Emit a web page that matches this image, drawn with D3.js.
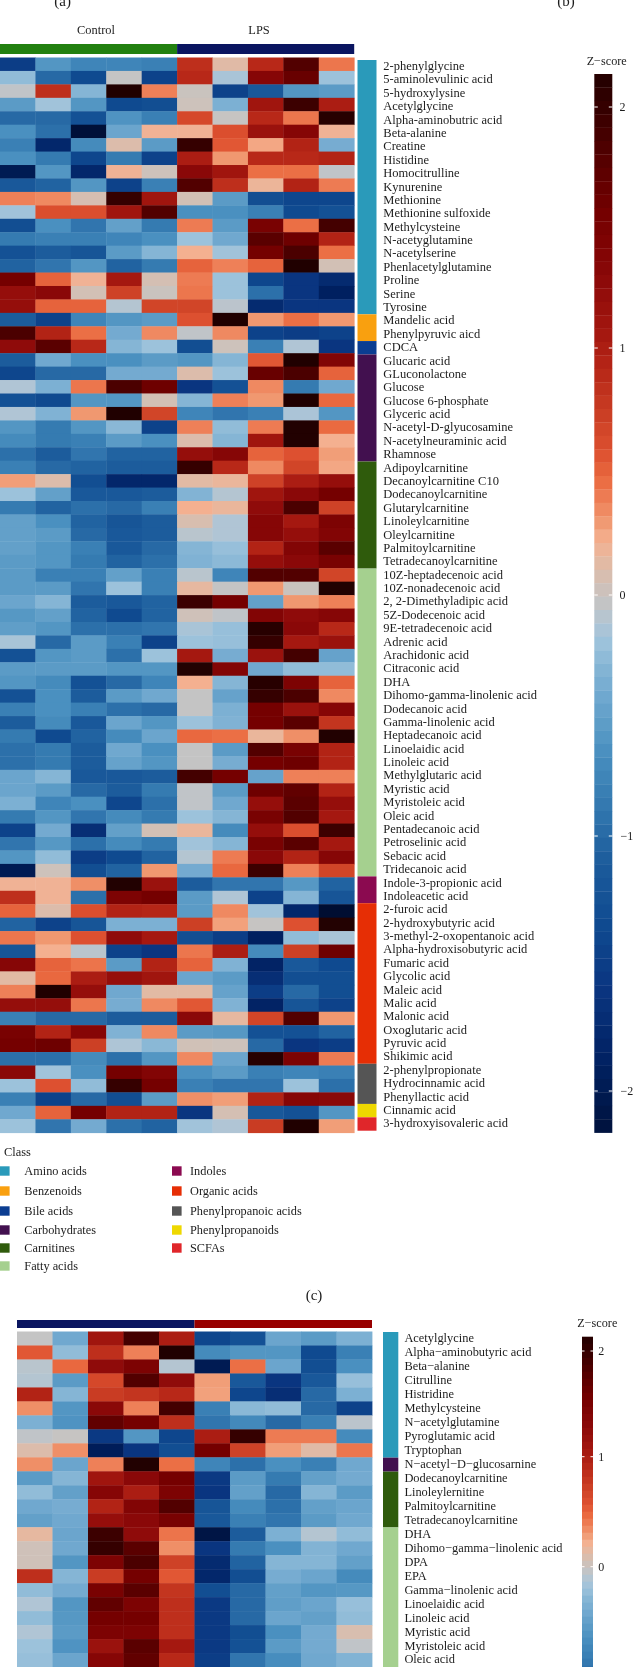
<!DOCTYPE html>
<html><head><meta charset="utf-8">
<script src="https://cdn.jsdelivr.net/npm/d3@7/dist/d3.min.js"></script>
<style>html,body{margin:0;padding:0;background:#fff;overflow:hidden}svg{display:block;filter:blur(0.35px)}text{font-family:"Liberation Serif",serif;fill:#1c1c1c}</style>
</head><body><div id="chart"></div>
<script>
// ---------- data ----------
const classNames = ["Amino acids","Benzenoids","Bile acids","Carbohydrates","Carnitines","Fatty acids","Indoles","Organic acids","Phenylpropanoic acids","Phenylpropanoids","SCFAs"];
const classColors = ["#2a9aba","#f9a00f","#0b3d91","#42104f","#2f5b0c","#a5d08f","#8b0a50","#e62e05","#555555","#eed800","#e0262a"];

const labelsA = ["2-phenylglycine","5-aminolevulinic acid","5-hydroxylysine","Acetylglycine","Alpha-aminobutric acid","Beta-alanine","Creatine","Histidine","Homocitrulline","Kynurenine","Methionine","Methionine sulfoxide","Methylcysteine","N-acetyglutamine","N-acetylserine","Phenlacetylglutamine","Proline","Serine","Tyrosine","Mandelic acid","Phenylpyruvic aicd","CDCA","Glucaric acid","GLuconolactone","Glucose","Glucose 6-phosphate","Glyceric acid","N-acetyl-D-glyucosamine","N-acetylneuraminic acid","Rhamnose","Adipoylcarnitine","Decanoylcarnitine C10","Dodecanoylcarnitine","Glutarylcarnitine","Linoleylcarnitine","Oleylcarnitine","Palmitoylcarnitine","Tetradecanoylcarnitine","10Z-heptadecenoic acid","10Z-nonadecenoic acid","2, 2-Dimethyladipic acid","5Z-Dodecenoic acid","9E-tetradecenoic acid","Adrenic acid","Arachidonic acid","Citraconic acid","DHA","Dihomo-gamma-linolenic acid","Dodecanoic acid","Gamma-linolenic acid","Heptadecanoic acid","Linoelaidic acid","Linoleic acid","Methylglutaric acid","Myristic acid","Myristoleic acid","Oleic acid","Pentadecanoic acid","Petroselinic acid","Sebacic acid","Tridecanoic acid","Indole-3-propionic acid","Indoleacetic acid","2-furoic acid","2-hydroxybutyric acid","3-methyl-2-oxopentanoic acid","Alpha-hydroxisobutyric acid","Fumaric acid","Glycolic acid","Maleic acid","Malic acid","Malonic acid","Oxoglutaric acid","Pyruvic acid","Shikimic acid","2-phenylpropionate","Hydrocinnamic acid","Phenyllactic acid","Cinnamic acid","3-hydroxyisovaleric acid"];
const classCountsA = [19,2,1,8,8,23,2,12,3,1,1];
const valuesA = [
[-1.5,-0.6,-0.75,-0.75,-0.8,0.85,0.12,0.9,1.8,0.42],
[-0.25,-1.0,-1.35,-0.03,-1.45,0.9,-0.15,1.35,1.65,-0.2],
[-0.05,0.85,-0.3,2.15,0.38,0.0,-1.45,-1.15,-0.6,-0.55],
[-0.55,-0.18,-0.6,-1.35,-1.3,0.02,-0.35,1.1,1.95,1.0],
[-1.0,-1.0,-1.25,-0.62,-0.8,0.65,-0.02,0.9,0.42,2.1],
[-0.65,-0.95,-2.2,-0.45,0.2,0.2,0.6,1.15,1.35,0.2],
[-0.8,-1.8,-0.7,0.1,-0.55,2.0,0.55,0.25,0.95,-0.38],
[-0.65,-0.85,-1.4,-0.85,-1.45,1.0,0.3,0.9,0.9,0.95],
[-2.0,-0.6,-1.8,0.2,0.02,1.3,1.1,0.45,0.45,-0.05],
[-1.15,-1.05,-0.6,-1.45,-0.8,1.8,0.85,0.18,0.95,0.4],
[0.38,0.35,0.07,2.0,1.1,0.05,-0.55,-1.3,-1.4,-1.4],
[-0.18,0.6,0.6,1.1,1.8,-0.65,-0.65,-0.8,-1.35,-1.25],
[-1.3,-0.65,-0.9,-0.5,-0.85,0.4,-0.55,1.5,0.45,1.9],
[-0.85,-0.8,-0.8,-0.75,-0.65,-0.2,-0.42,1.75,1.6,0.95],
[-1.25,-1.1,-1.2,-0.55,-0.3,0.22,-0.18,1.55,1.85,0.45],
[-1.05,-0.9,-0.6,-1.05,-0.85,0.5,0.38,0.5,2.15,0.05],
[1.55,0.5,0.2,1.05,0.06,0.4,-0.2,-1.4,-1.6,-1.75],
[1.2,1.3,0.05,0.7,0.0,0.42,-0.2,-0.95,-1.6,-1.9],
[1.2,0.5,0.5,-0.1,0.68,0.68,-0.07,-1.75,-1.6,-1.6],
[-1.1,-1.45,-0.75,-0.6,-0.55,0.58,2.15,0.3,0.45,0.3],
[1.85,0.95,0.45,-0.4,0.35,-0.05,0.35,-1.45,-1.5,-1.45],
[1.25,1.75,0.9,-0.3,-0.2,-1.3,0.02,-0.8,-0.12,-1.6],
[-1.1,-0.42,-0.65,-0.65,-0.55,-0.6,-0.3,0.55,2.15,1.4],
[-1.4,-1.0,-1.0,-0.4,-0.4,0.1,-0.2,1.65,1.85,0.5],
[-0.12,-0.35,0.42,1.85,1.6,-1.6,-1.25,0.35,-0.85,-0.42],
[-1.25,-1.35,-0.6,-0.6,0.05,-0.3,0.38,0.3,2.15,0.48],
[-0.12,-0.33,0.3,2.15,0.68,-0.75,-0.9,-0.8,-0.14,-0.6],
[-0.6,-0.85,-0.6,-0.28,-1.45,0.38,-0.25,0.4,2.2,0.47],
[-0.7,-0.85,-0.8,-0.55,-0.65,0.1,-0.3,1.1,2.2,0.22],
[-0.95,-1.1,-0.9,-1.05,-1.05,1.2,1.35,0.5,0.58,0.28],
[-0.8,-1.0,-1.05,-1.1,-1.1,2.0,0.9,0.35,0.68,0.25],
[0.28,0.1,-1.3,-1.8,-1.8,0.13,0.17,0.7,1.0,1.2],
[-0.2,-0.5,-1.15,-1.15,-1.1,-0.32,-0.1,1.1,1.3,1.55],
[-0.85,-1.05,-0.95,-1.0,-0.8,0.22,0.17,1.25,1.85,0.7],
[-0.5,-0.65,-1.05,-1.2,-1.1,0.08,-0.12,1.35,1.05,1.45],
[-0.5,-0.55,-1.0,-1.15,-1.1,-0.08,-0.12,1.35,1.2,1.4],
[-0.5,-0.6,-0.8,-1.15,-1.0,-0.3,-0.22,0.95,1.4,1.75],
[-0.55,-0.6,-0.85,-1.05,-0.95,-0.33,-0.27,1.2,1.3,1.5],
[-0.55,-0.8,-0.8,-0.5,-0.8,-0.08,-0.75,1.8,1.8,0.68],
[-0.55,-0.55,-0.9,-0.2,-0.8,0.15,-0.03,0.3,0.0,2.2],
[-0.45,-0.3,-1.1,-1.15,-1.05,1.95,1.55,-0.5,0.3,0.38],
[-0.58,-0.5,-1.05,-1.35,-1.05,0.03,-0.05,1.4,1.25,1.35],
[-0.52,-0.6,-0.95,-0.95,-0.9,-0.15,-0.22,2.1,1.3,0.9],
[-0.15,-1.0,-0.55,-0.8,-1.45,-0.2,-0.22,2.0,1.05,1.15],
[-1.25,-0.6,-0.55,-0.95,-0.2,1.05,-0.38,1.15,1.9,-0.48],
[-0.55,-0.55,-0.55,-0.6,-0.6,2.25,1.4,-0.42,-0.25,-0.25],
[-0.6,-0.7,-1.25,-1.0,-0.75,0.22,-0.3,2.1,1.45,0.5],
[-1.25,-0.65,-1.1,-0.55,-0.42,-0.03,-0.48,2.0,1.85,0.35],
[-0.8,-0.65,-0.8,-0.95,-1.0,-0.03,-0.35,1.55,1.15,1.35],
[-1.1,-0.7,-1.15,-0.45,-0.6,-0.2,-0.33,1.55,1.75,0.8],
[-0.85,-1.35,-1.05,-0.7,-0.45,0.48,0.45,0.17,0.33,2.2],
[-0.95,-0.85,-1.1,-0.42,-0.65,-0.03,-0.55,1.8,1.5,0.95],
[-0.95,-0.85,-1.1,-0.48,-0.6,-0.03,-0.38,1.55,1.6,0.95],
[-0.45,-0.3,-1.15,-1.15,-1.1,1.9,1.55,-0.48,0.38,0.38],
[-0.45,-0.55,-1.0,-1.1,-0.85,-0.05,-0.55,1.6,1.7,0.95],
[-0.35,-0.75,-0.65,-1.4,-0.95,-0.05,-0.42,1.2,1.75,1.2],
[-0.85,-0.6,-0.9,-0.7,-0.85,-0.2,-0.3,1.5,1.8,1.05],
[-1.45,-0.4,-1.7,-0.5,0.05,0.17,-0.7,1.2,0.6,1.95],
[-0.9,-0.58,-0.95,-0.7,-0.85,-0.18,-0.3,1.5,1.75,1.05],
[-0.6,-0.25,-1.5,-1.35,-1.05,-0.1,0.4,1.3,0.95,1.35],
[-2.0,0.02,-1.3,-1.05,0.3,-0.4,0.48,1.95,0.38,0.68],
[0.2,0.2,0.33,2.2,1.15,-1.1,-0.9,-0.9,-0.58,-1.05],
[0.85,0.2,-0.95,1.45,1.55,-0.55,-0.12,-1.45,-0.3,-1.2],
[0.5,0.1,0.6,0.95,0.92,-0.55,0.35,-0.18,-1.8,-2.25],
[-1.05,-1.45,-1.2,-0.35,-0.35,0.72,0.27,-0.02,0.58,2.25],
[0.42,0.3,0.58,1.25,1.05,-1.3,-1.5,-1.9,-0.25,-0.15],
[-1.2,0.22,-0.08,-1.45,-1.6,0.42,1.0,-0.7,0.72,1.6],
[1.35,0.5,0.43,-0.55,0.95,0.5,-0.33,-1.85,-1.15,-1.35],
[0.13,0.48,1.0,1.2,1.1,-0.45,-0.55,-1.7,-1.3,-1.3],
[0.38,2.15,1.2,-0.42,0.13,0.13,-0.48,-1.5,-1.0,-1.3],
[1.2,1.2,0.42,-0.38,0.35,0.55,-0.33,-1.85,-1.2,-1.45],
[-0.8,-1.0,-1.0,-1.1,-1.1,1.3,0.15,0.68,1.8,0.3],
[1.5,0.95,1.35,-0.33,0.35,-0.55,-0.58,-1.25,-1.25,-1.05],
[1.55,1.6,0.72,-0.13,-0.28,0.04,0.02,-1.0,-1.6,-1.5],
[-0.95,-0.95,-0.7,-0.95,-0.6,0.35,-0.45,2.1,1.45,0.4],
[1.3,-0.18,-0.65,1.55,1.4,-0.65,-0.55,-0.8,-0.75,-0.8],
[-0.2,0.58,-0.25,2.0,1.55,-0.8,-0.9,-0.9,-0.2,-0.95],
[-0.8,-1.45,-1.0,-1.3,-0.55,0.33,0.28,0.95,1.35,1.3],
[-0.42,0.5,1.55,0.95,0.95,-1.6,0.06,-1.15,-1.25,-0.6],
[-0.2,-0.9,-0.4,-0.95,-1.05,-0.18,-0.12,0.75,2.15,0.28]
];

const labelsC = ["Acetylglycine","Alpha\u2212aminobutyric acid","Beta\u2212alanine","Citrulline","Histridine","Methylcysteine","N\u2212acetylglutamine","Pyroglutamic acid","Tryptophan","N\u2212acetyl\u2212D\u2212glucosarnine","Dodecanoylcarnitine","Linoleylernitine","Palmitoylcarnitine","Tetradecanoylcarnitine","DHA","Dihomo\u2212gamma\u2212linolenic acid","DPA","EPA","Gamma\u2212linolenic acid","Linoelaidic acid","Linoleic acid","Myristic acid","Myristoleic acid","Oleic acid"];
const classCountsC = [9,0,0,1,4,10];
const valuesC = [
[-0.03,-0.42,1.1,1.9,1.0,-1.4,-1.25,-0.45,-0.55,-0.35],
[0.55,-0.25,0.85,0.38,2.15,-0.7,-0.6,-0.6,-1.35,-0.8],
[-0.08,0.48,1.25,1.45,-0.1,-2.0,0.45,-0.45,-1.3,-0.65],
[-0.1,-0.55,0.65,1.8,1.25,0.28,-1.15,-1.6,-1.15,-0.22],
[0.95,-0.3,0.75,0.8,0.9,0.27,-1.4,-1.7,-1.0,-0.35],
[0.33,-0.6,1.3,0.38,1.9,-0.8,-0.28,-0.25,-1.0,-1.45],
[-0.35,-0.62,1.7,1.55,0.85,-0.9,-0.72,-1.0,-0.8,-0.07],
[-0.05,-0.02,-1.55,-0.6,-1.4,1.0,2.0,0.4,0.4,-0.7],
[0.1,0.33,-1.95,-1.6,-1.3,1.55,0.7,0.28,0.12,0.42],
[0.33,-0.45,0.38,2.2,0.45,-0.75,-0.95,-0.65,-0.8,-0.42],
[-0.55,-0.3,1.1,1.3,1.55,-1.55,-0.55,-0.85,-0.5,-0.4],
[-0.25,-0.5,1.35,1.0,1.45,-1.6,-0.5,-1.0,-0.3,-0.55],
[-0.42,-0.38,0.95,1.4,1.8,-1.2,-0.7,-0.95,-0.5,-0.45],
[-0.5,-0.42,1.2,1.3,1.5,-1.15,-0.8,-0.9,-0.55,-0.42],
[0.15,-0.45,1.95,1.25,0.43,-2.1,-1.1,-0.35,-0.1,-0.25],
[0.03,-0.42,2.0,1.75,0.33,-1.6,-0.85,-0.65,-0.32,-0.42],
[0.03,-0.6,1.45,1.85,0.7,-1.75,-1.05,-0.3,-0.3,-0.5],
[0.85,-0.3,0.75,1.55,0.55,-1.8,-1.3,-0.38,-0.45,-0.7],
[-0.25,-0.4,1.5,1.75,0.8,-1.3,-1.0,-0.5,-0.6,-0.58],
[-0.12,-0.6,1.7,1.45,0.85,-1.55,-1.0,-0.52,-0.45,-0.22],
[-0.25,-0.58,1.55,1.55,0.85,-1.55,-1.0,-0.45,-0.5,-0.25],
[-0.12,-0.55,1.45,1.45,0.85,-1.55,-1.3,-0.65,-0.4,0.08],
[-0.2,-0.62,1.15,1.75,1.05,-1.55,-1.25,-0.55,-0.4,-0.05],
[-0.22,-0.45,1.35,1.7,0.9,-1.5,-0.9,-0.68,-0.42,-0.32]
];

const colorStops = [-2.5,-2.35,-2.2,-1.9,-1.6,-1.35,-1.1,-0.95,-0.8,-0.65,-0.55,-0.42,-0.3,-0.2,-0.12,-0.03,0.05,0.15,0.22,0.3,0.38,0.47,0.58,0.72,0.9,1.05,1.3,1.55,1.75,1.95,2.15,2.4];
const colorRamp = ["#14213f","#000a25","#001038","#002060","#0a3580","#0f4a90","#1c5c9c","#2c70aa","#3a80b5","#4a90c0","#5b9bc6","#70a8cf","#85b5d5","#9cc2db","#b0c5d5","#c4c4c4","#d2c0b5","#e6b8a0","#f4b090","#f09870","#ee8058","#ea6a40","#dd5030","#cc4025","#b82818","#a51810","#8a0808","#750000","#5a0000","#3c0000","#200000","#280404"];
const color = d3.scaleLinear().domain(colorStops).range(colorRamp).clamp(true);
const groupNames = ["Control","LPS"];
const tickValues = [2,1,0,-1,-2];

// ---------- drawing ----------
const W = 634, H = 1667;
const svg = d3.select("#chart").append("svg").attr("width",W).attr("height",H).attr("viewBox",[0,0,W,H]);
const fmt = v => v<0 ? "\u2212"+(-v) : ""+v;
const colIdx = d3.range(10);

function heat(values, x0, x1, y0, y1){
  const x = d3.scaleBand().domain(colIdx).range([x0,x1]);
  const y = d3.scaleBand().domain(d3.range(values.length)).range([y0,y1]);
  const g = svg.append("g");
  g.selectAll("g").data(values).join("g").each(function(row,i){
    d3.select(this).selectAll("rect").data(row).join("rect")
      .attr("x",(d,j)=>x(j)).attr("y",y(i))
      .attr("width",x.bandwidth()+0.4).attr("height",y.bandwidth()+0.4)
      .attr("fill",d=>color(d));
  });
}
function classBar(counts, labels, x0, x1, y0, y1, lx, fs){
  const y = d3.scaleBand().domain(d3.range(labels.length)).range([y0,y1]);
  let s = 0;
  const segs = counts.map((c,i)=>{const o={c,i,s};s+=c;return o;}).filter(o=>o.c>0);
  svg.append("g").selectAll("rect").data(segs).join("rect")
    .attr("x",x0).attr("width",x1-x0)
    .attr("y",d=>y(d.s)).attr("height",d=>d.c*y.bandwidth())
    .attr("fill",d=>classColors[d.i]);
  svg.append("g").selectAll("text").data(labels).join("text")
    .attr("x",lx).attr("y",(d,i)=>y(i)+y.bandwidth()/2+3.4)
    .attr("font-size",fs).text(d=>d);
}
function colorBar(scale, x0, x1, yTop, yBot, step, tx, tn, fs, tw){
  const bands = d3.range(yTop,yBot,step);
  svg.append("g").selectAll("rect").data(bands).join("rect")
    .attr("x",x0).attr("width",x1-x0).attr("y",d=>d).attr("height",step+0.3)
    .attr("fill",d=>color(scale.invert(d+step/2)));
  const t = svg.append("g").selectAll("g").data(tickValues.filter(v=>scale(v)<H)).join("g");
  [[x0,x0+tw],[x1-tw,x1]].forEach(([a,b])=>{
    t.append("line").attr("x1",a).attr("x2",b).attr("y1",d=>scale(d)).attr("y2",d=>scale(d))
      .attr("stroke","#fff").attr("stroke-width",1);
  });
  t.append("text").attr("x",d=>d<0?tn:tx).attr("y",d=>scale(d)+4).attr("font-size",fs).text(fmt);
}
function label(txt,x,y,fs,anchor){
  svg.append("text").attr("x",x).attr("y",y).attr("font-size",fs).attr("text-anchor",anchor||"middle").text(txt);
}

// panel letters
label("(a)",62.7,5.5,15);
label("(b)",566,5.5,15);
label("(c)",314,1299.5,15);

// panel a
label(groupNames[0],96,34,12.4);
label(groupNames[1],259,34,12.4);
const xa = d3.scaleLinear().domain([0,2]).range([0,354.2]);
svg.append("rect").attr("x",xa(0)).attr("width",xa(1)-xa(0)).attr("y",44).attr("height",10).attr("fill","#228010");
svg.append("rect").attr("x",xa(1)).attr("width",xa(2)-xa(1)).attr("y",44).attr("height",10).attr("fill","#0a1560");
heat(valuesA,0,354.2,57.5,1132.7);
classBar(classCountsA,labelsA,357.5,376.5,60,1130.7,383.3,12.5);
const cbA = d3.scaleLinear().domain([-2,-1,0,1,2]).range([1091,836,595,348,107]);
label("Z\u2212score",606.7,65,12.2);
colorBar(cbA,594.3,612.3,74,1132.3,13.4,619.5,620.5,12,3.5);

// legend
label("Class",4,1156,12.4,"start");
const legendY = [1171,1191,1211,1230,1248,1266];
const legendCols = [[0,24.3],[172,190]];
classNames.forEach((n,i)=>{
  const col = i<6?0:1, r = i<6?i:i-6;
  svg.append("rect").attr("x",legendCols[col][0]).attr("y",legendY[r]-4.7).attr("width",9.6).attr("height",9.4).attr("fill",classColors[i]);
  label(n,legendCols[col][1],legendY[r]+4,12.3,"start");
});

// panel c
const xc = d3.scaleLinear().domain([0,2]).range([17,372]);
svg.append("rect").attr("x",xc(0)).attr("width",xc(1)-xc(0)).attr("y",1320).attr("height",8).attr("fill","#0a1560");
svg.append("rect").attr("x",xc(1)).attr("width",xc(2)-xc(1)).attr("y",1320).attr("height",8).attr("fill","#980000");
heat(valuesC,17,372,1331.5,1331.5+24*13.98);
classBar(classCountsC,labelsC,383,398.3,1332,1332+24*13.96,404.4,12.4);
const cbC = d3.scaleLinear().domain([0,1,2]).range([1566.7,1456.7,1351]);
label("Z\u2212score",597.3,1327,12.2);
colorBar(cbC,582,593,1336.7,1667,7,598.3,598.3,12,2.5);
</script></body></html>
